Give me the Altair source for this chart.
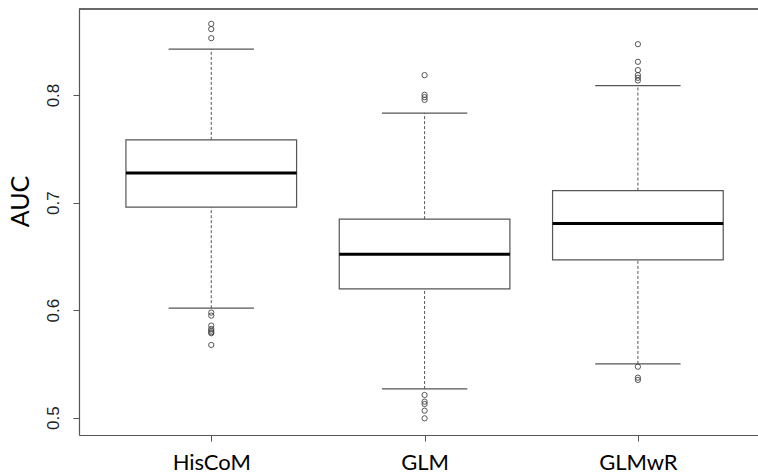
import altair as alt
import pandas as pd

methods = ["HisCoM", "GLM", "GLMwR"]
q1 = [0.6957, 0.6197, 0.6467]
median = [0.7276, 0.6520, 0.6805]
q3 = [0.7583, 0.6846, 0.7112]
whisk_lo = [0.6018, 0.5267, 0.5500]
whisk_hi = [0.8427, 0.7832, 0.8088]

out_hiscom = [0.8662, 0.8613, 0.8529, 0.5977, 0.5949, 0.5856, 0.5825, 0.5809, 0.5794, 0.5785, 0.5676]
out_glm = [0.8185, 0.8002, 0.7980, 0.7955, 0.5211, 0.5149, 0.5127, 0.5065, 0.4994]
out_glmwr = [0.8473, 0.8309, 0.8232, 0.8185, 0.8160, 0.8135, 0.5474, 0.5372, 0.5351]

y_ticks = [0.5, 0.6, 0.7, 0.8]

W, H = 679, 426
GRAY = "#555555"

stats = pd.DataFrame({
    "method": methods,
    "pos": list(range(1, len(methods) + 1)),
    "q1": q1, "median": median, "q3": q3, "lo": whisk_lo, "hi": whisk_hi,
})
outs = pd.DataFrame({
    "pos": [1] * len(out_hiscom) + [2] * len(out_glm) + [3] * len(out_glmwr),
    "value": out_hiscom + out_glm + out_glmwr,
})

label_expr = " : ".join(
    f"datum.value == {i + 1} ? '{m}'" for i, m in enumerate(methods[:-1])
) + f" : '{methods[-1]}'"

xscale = alt.Scale(domain=[0.38, 3.563], nice=False, zero=False)
yscale = alt.Scale(domain=[0.4839, 0.880], nice=False, zero=False)

xaxis = alt.Axis(
    values=[1, 2, 3], labelExpr=label_expr, title=None, grid=False,
    domainColor=GRAY, tickColor=GRAY, tickSize=6, labelFont="Lato",
    labelFontSize=22, labelColor="#000000", labelPadding=11, domainWidth=1.2,
)
yaxis = alt.Axis(
    values=y_ticks, format=".1f", title="AUC", grid=False,
    domainColor=GRAY, tickColor=GRAY, tickSize=6, labelFont="Liberation Sans",
    labelFontSize=17, labelColor="#222222", labelAngle=270, labelAlign="center",
    labelBaseline="bottom", labelPadding=11, titleFont="Lato", titleFontSize=25,
    titleFontWeight="normal", titleColor="#000000", titleAngle=270,
    titleAlign="center", titleBaseline="bottom", titleX=-46, titleY=192,
    domainWidth=1.2,
)

base = alt.Chart(stats).transform_calculate(
    bl="datum.pos - 0.4", br="datum.pos + 0.4",
    cl="datum.pos - 0.2", cr="datum.pos + 0.2",
)

whisk_up = base.mark_rule(color=GRAY, strokeDash=[3, 2], strokeWidth=1).encode(
    x=alt.X("pos:Q", scale=xscale, axis=xaxis),
    y=alt.Y("q3:Q", scale=yscale, axis=yaxis), y2="hi:Q",
)
whisk_dn = base.mark_rule(color=GRAY, strokeDash=[3, 2], strokeWidth=1).encode(
    x="pos:Q", y="lo:Q", y2="q1:Q",
)
cap_hi = base.mark_rule(color=GRAY, strokeWidth=1.2).encode(
    x="cl:Q", x2="cr:Q", y="hi:Q",
)
cap_lo = base.mark_rule(color=GRAY, strokeWidth=1.2).encode(
    x="cl:Q", x2="cr:Q", y="lo:Q",
)
box = base.mark_rect(fill="white", stroke=GRAY, strokeWidth=1.2).encode(
    x="bl:Q", x2="br:Q", y="q1:Q", y2="q3:Q",
)
med = base.mark_rule(color="#000000", strokeWidth=3).encode(
    x="bl:Q", x2="br:Q", y="median:Q",
)
pts = alt.Chart(outs).mark_point(
    shape="circle", filled=False, size=28, color="#444444", strokeWidth=0.9, opacity=1,
).encode(x="pos:Q", y="value:Q")

top = alt.Chart(stats).mark_rule(color=GRAY, strokeWidth=1.2).encode(
    x=alt.value(0), x2=alt.value(W), y=alt.value(0),
)

chart = alt.layer(whisk_up, whisk_dn, cap_hi, cap_lo, box, med, pts, top).properties(
    width=W, height=H,
    autosize=alt.AutoSizeParams(type="none"),
    padding={"left": 79, "top": 9, "right": 0, "bottom": 41},
    background="white",
).configure_view(stroke=None)

chart.save("out.html", embed_options={"renderer": "svg", "actions": False})
